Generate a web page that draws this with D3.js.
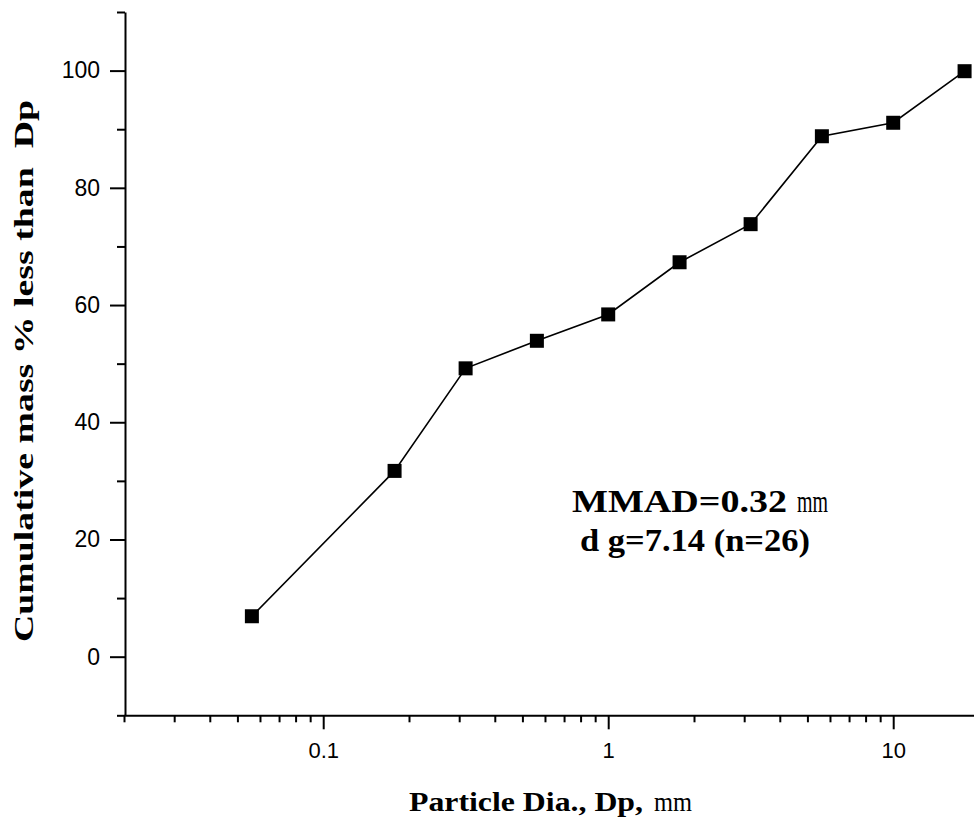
<!DOCTYPE html>
<html><head><meta charset="utf-8">
<script src="https://cdn.jsdelivr.net/npm/d3@7"></script>
<style>body{margin:0;background:#fff}svg{display:block}</style>
</head><body><svg id="c" width="974" height="820"></svg>
<script>
const diameters = [0.0562, 0.178, 0.316, 0.562, 1.0, 1.78, 3.16, 5.62, 10.0, 17.8];
const cumulative = [6.9, 31.7, 49.2, 53.9, 58.4, 67.3, 73.8, 88.8, 91.1, 99.9];
const xTickLabels = [0.1, 1, 10];
const yTickLabels = [0, 20, 40, 60, 80, 100];
const annotationLine1 = ["MMAD=0.32", "mm"];
const annotationLine2 = "d g=7.14 (n=26)";
const xTitle = ["Particle Dia., Dp,", "mm"];
const yTitle = "Cumulative mass % less than  Dp";

const svg = d3.select("#c");
const x = d3.scaleLog().domain([0.02, 20]).range([124, 979]);
const y = d3.scaleLinear().domain([-10, 110]).range([715.3, 12]);

const xMinor = [];
for (const dec of [0.01, 0.1, 1, 10]) for (let k = 2; k <= 9; k++) { const v = dec * k; if (v >= 0.02 && v <= 20) xMinor.push(v); }
const yMinor = d3.range(-10, 111, 20);

const g = svg.append("g");
const axisStyle = sel => { sel.select(".domain").attr("stroke", "#000").attr("stroke-width", 2); sel.selectAll(".tick line").attr("stroke", "#000").attr("stroke-width", 2); };
const sans = "Arial, 'Liberation Sans', sans-serif";

// x axis
g.append("g").attr("transform", `translate(0,${y(-10)})`)
  .call(d3.axisBottom(x).tickValues(xMinor.filter(v => !xTickLabels.includes(v))).tickSize(7).tickSizeOuter(0).tickFormat(""))
  .call(axisStyle);
g.append("g").attr("transform", `translate(0,${y(-10)})`)
  .call(d3.axisBottom(x).tickValues(xTickLabels).tickSize(14).tickSizeOuter(0).tickPadding(13).tickFormat(d => String(d)))
  .call(axisStyle)
  .call(s => s.select(".domain").remove())
  .call(s => s.selectAll("text").attr("font-family", sans).attr("font-size", 22).attr("fill", "#000"));

// y axis
g.append("g").attr("transform", `translate(${x(0.02) + 1},0)`)
  .call(d3.axisLeft(y).tickValues(yMinor).tickSize(8).tickSizeOuter(0).tickFormat(""))
  .call(axisStyle);
g.append("g").attr("transform", `translate(${x(0.02) + 1},0)`)
  .call(d3.axisLeft(y).tickValues(yTickLabels).tickSize(15).tickSizeOuter(0).tickPadding(10).tickFormat(d => String(d)))
  .call(axisStyle)
  .call(s => s.select(".domain").remove())
  .call(s => s.selectAll("text").attr("font-family", sans).attr("font-size", 23).attr("fill", "#000"));

// data
const pts = diameters.map((d, i) => [d, cumulative[i]]);
g.append("path").datum(pts)
  .attr("fill", "none").attr("stroke", "#000").attr("stroke-width", 1.6)
  .attr("d", d3.line().x(d => x(d[0])).y(d => y(d[1])));
const ms = 14;
g.selectAll("rect.m").data(pts).join("rect").attr("class", "m")
  .attr("x", d => x(d[0]) - ms / 2).attr("y", d => y(d[1]) - ms / 2)
  .attr("width", ms).attr("height", ms).attr("fill", "#000");

// annotation
const serif = "'Times New Roman', 'Liberation Serif', serif";
const txt = (xx, yy, s, size, weight, len) => svg.append("text").attr("x", xx).attr("y", yy)
  .attr("font-family", serif).attr("font-size", size).attr("font-weight", weight).attr("fill", "#000")
  .attr("textLength", len).attr("lengthAdjust", "spacingAndGlyphs").text(s);
txt(572, 512, annotationLine1[0], 32, "bold", 215);
txt(797, 512, annotationLine1[1], 32, "normal", 31);
txt(580, 551, annotationLine2, 32, "bold", 230);

// axis titles
txt(409, 811, xTitle[0], 28, "bold", 234);
txt(654, 811, xTitle[1], 28, "normal", 38);

svg.append("text").attr("transform", "translate(33,642) rotate(-90)")
  .attr("font-family", serif).attr("font-size", 28).attr("font-weight", "bold").attr("fill", "#000")
  .attr("textLength", 542).attr("lengthAdjust", "spacingAndGlyphs")
  .style("white-space", "pre")
  .text(yTitle);
</script></body></html>
